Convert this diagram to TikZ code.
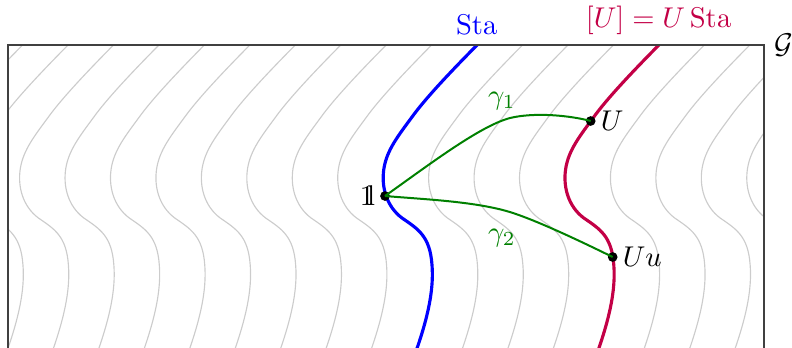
\documentclass[tikz,border=0pt]{standalone}
\definecolor{stablue}{RGB}{0,0,255}
\definecolor{cosetred}{RGB}{195,0,70}
\definecolor{pathgreen}{RGB}{0,128,0}
\tikzset{
  fibre/.style={draw=gray!40, line width=0.4pt},
  bluefibre/.style={draw=stablue, line width=1.1pt},
  redfibre/.style={draw=cosetred, line width=1.1pt},
  gpath/.style={draw=pathgreen, line width=0.7pt},
  frameline/.style={draw=black!75, line width=0.5pt},
  dot/.style={circle, fill=black, inner sep=0pt, minimum size=3.4pt},
  glabel/.style={text=pathgreen}
}
\newcommand\unitone{\mathrm{1\mkern-4.5mu l}}
\newcommand\stapath[1]{\draw[#1] (497,25) .. controls (470,52) and (430,92) .. (412,117)
  .. controls (398,136) and (387,150) .. (384,168)
  .. controls (381,186) and (386,206) .. (402,218)
  .. controls (418,229) and (430,236) .. (432,265)
  .. controls (434,290) and (428,320) .. (411,365);}
\begin{document}
\begin{tikzpicture}[x=0.35pt,y=-0.35pt]
\useasboundingbox (0,0) rectangle (792,347);
\begin{scope}
  \clip (8,45) rectangle (764,370);
  \foreach \k in {-11,...,8}{
    \begin{scope}[xshift=\k*15.9075pt]
      \stapath{fibre}
    \end{scope}
  }
  \stapath{bluefibre}
  \begin{scope}[xshift=63.63pt]
    \stapath{redfibre}
  \end{scope}
\end{scope}
\draw[frameline] (8,360) -- (8,45) -- (764,45) -- (764,360);
\coordinate (bluetop) at (476.7,45);
\coordinate (redtop) at (658.5,45);
\coordinate (corner) at (764,45);
\node[above, text=stablue] (stalabel) at (bluetop) {Sta};
\node[above, text=cosetred] (cosetlabel) at (redtop) {$[U]=U\,\mathrm{Sta}$};
\node[right] (glabelG) at (corner) {$\mathcal{G}$};
\node[dot] (one) at (385,196) {};
\node[dot] (U) at (590.7,121) {};
\node[dot] (Uu) at (612.7,257) {};
\draw[gpath] (one.center) .. controls (430,164) and (480,126) .. (510,118)
   .. controls (535,112) and (570,115.5) .. (U.center);
\draw[gpath] (one.center) .. controls (425,199.4) and (478,201.5) .. (513,213)
   .. controls (540,222) and (580,241) .. (Uu.center);
\node[left] (onelabel) at (one) {$\unitone$};
\node[right] (Ulabel) at (U) {$U$};
\node[right] (Uulabel) at (Uu) {$Uu$};
\node[glabel] (g1) at (502,101) {$\gamma_1$};
\node[glabel] (g2) at (502,238) {$\gamma_2$};
\end{tikzpicture}
\end{document}
